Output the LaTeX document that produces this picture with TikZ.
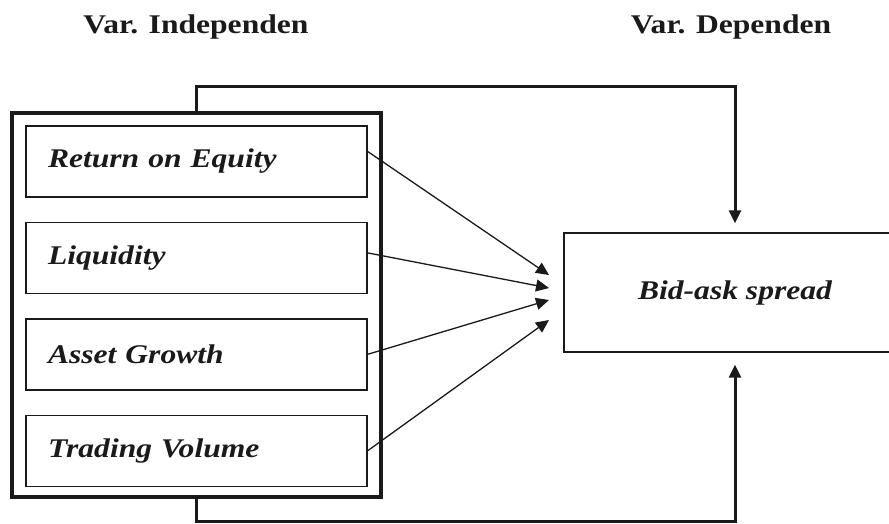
\documentclass[tikz,border=0pt]{standalone}
\usepackage{fontspec}
\setmainfont{Liberation Serif}[FakeStretch=1.17]
\usepackage{tikz}
\usetikzlibrary{arrows.meta, positioning, calc}
\definecolor{tinta}{HTML}{1A1A1A}

\tikzset{
  judul/.style={font=\fontsize{27}{32}\selectfont\bfseries, text=tinta},
  varbox/.style={draw=tinta, line width=1.4pt, minimum width=341pt, minimum height=71pt,
    text width=297pt, inner xsep=22pt, align=left, text=tinta,
    font=\fontsize{27}{32}\selectfont\bfseries\itshape},
  luar/.style={draw=tinta, line width=3.5pt, minimum width=369pt, minimum height=384pt},
  hasil/.style={draw=tinta, line width=1.4pt, minimum width=342pt, minimum height=119pt,
    text=tinta, font=\fontsize{27}{32}\selectfont\bfseries\itshape},
  garis/.style={draw=tinta, line width=3pt, ->},
  panah/.style={draw=tinta, line width=1.3pt, ->}
}

\begin{document}
\begin{tikzpicture}[x=1pt, y=-1pt, >={Triangle[length=13pt, width=12pt]}]
  \useasboundingbox (0,0) rectangle (889,523);

  % Judul kolom
  \node[judul] (judulind) at (196,27) {Var. Independen};
  \node[judul] (juduldep) at (731,27) {Var. Dependen};

  % Variabel independen
  \node[luar] (indep) at (196.5,305) {};
  \node[varbox] (roe) at (196.5,161.5) {Return on Equity};
  \node[varbox, below=24pt of roe] (liq) {Liquidity};
  \node[varbox, below=24pt of liq] (ag) {Asset Growth};
  \node[varbox, below=24pt of ag] (tv) {Trading Volume};

  % Variabel dependen
  \node[hasil] (bid) at (735,292.5) {Bid-ask spread};

  % Panah masing-masing variabel
  \coordinate (t1) at (549,275);
  \coordinate (t2) at (549,288);
  \coordinate (t3) at (549,300);
  \coordinate (t4) at (549,320);
  \foreach \v/\t/\dy in {roe/t1/-10, liq/t2/-5, ag/t3/0, tv/t4/0}
    \draw[panah] ($(\v.east)+(0,\dy)$) -- (\t);

  % Pengaruh simultan
  \draw[garis, shorten >=9pt] (indep.north) -- ++(0,-25) -| (bid.north);
  \draw[garis, shorten >=12pt] (indep.south) -- ++(0,23) -| (bid.south);
\end{tikzpicture}
\end{document}
